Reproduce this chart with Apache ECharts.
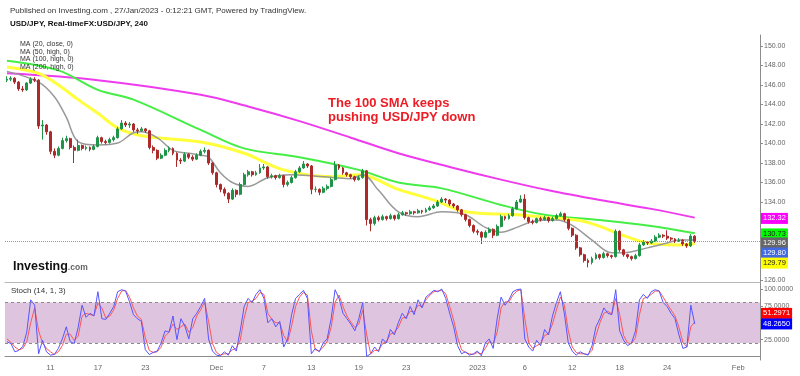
<!DOCTYPE html>
<html>
<head>
<meta charset="utf-8">
<title>USD/JPY 240</title>
<script src="https://cdn.jsdelivr.net/npm/echarts@6.0.0/dist/echarts.min.js"></script>
<style>
  html, body { margin: 0; padding: 0; background: #fff; }
  #chart { width: 800px; height: 376px; }
</style>
</head>
<body>
<div id="chart"></div>
<script>
// trading days on the time axis (weekends skipped), three 8h bars per day
const days = [
  'Nov 7', 'Nov 8', 'Nov 9', 'Nov 10', 'Nov 11', 'Nov 14', 'Nov 15', 'Nov 16', 'Nov 17', 'Nov 18',
  'Nov 21', 'Nov 22', 'Nov 23', 'Nov 24', 'Nov 25', 'Nov 28', 'Nov 29', 'Nov 30',
  'Dec 1', 'Dec 2', 'Dec 5', 'Dec 6', 'Dec 7', 'Dec 8', 'Dec 9', 'Dec 12', 'Dec 13', 'Dec 14',
  'Dec 15', 'Dec 16', 'Dec 19', 'Dec 20', 'Dec 21', 'Dec 22', 'Dec 23', 'Dec 26', 'Dec 27', 'Dec 28',
  'Dec 29', 'Dec 30', 'Jan 2', 'Jan 3', 'Jan 4', 'Jan 5', 'Jan 6', 'Jan 9', 'Jan 10', 'Jan 11',
  'Jan 12', 'Jan 13', 'Jan 16', 'Jan 17', 'Jan 18', 'Jan 19', 'Jan 20', 'Jan 23', 'Jan 24', 'Jan 25',
  'Jan 26', 'Jan 27', 'Jan 30', 'Jan 31', 'Feb 1', 'Feb 2'
]
const slots = ['00', '08', '16']

const tickDays = ['Nov 11', 'Nov 17', 'Nov 23', 'Dec 1', 'Dec 7', 'Dec 13', 'Dec 19', 'Dec 23',
  'Jan 2', 'Jan 6', 'Jan 12', 'Jan 18', 'Jan 24', 'Feb 1']
const tickText = ['11', '17', '23', 'Dec', '7', '13', '19', '23', '2023', '6', '12', '18', '24', 'Feb']

const priceTicks = [126, 134, 136, 138, 140, 142, 144, 146, 148, 150]
const stochTicks = [25, 75, 100]

// USD/JPY 8h candles
const opens = [
  146.5, 146.6, 146.7, 146.3, 145.6, 145.5, 146.2, 146.6, 146.5, 141.8,
  141.9, 141.2, 139.2, 138.8, 139.5, 140.3, 140.5, 139.6, 139.3, 139.8,
  139.5, 139.6, 139.4, 139.7, 140.6, 140.2, 140.1, 140.4, 140.6, 141.5,
  142.1, 141.9, 142.0, 141.4, 141.3, 141.5, 141.3, 139.6, 139.3, 138.5,
  138.8, 139.3, 139.5, 139.0, 138.3, 138.2, 138.9, 138.6, 138.4, 138.8,
  139.2, 139.3, 138.0, 137.0, 135.8, 135.3, 134.9, 134.3, 135.2, 134.8,
  135.8, 136.8, 137.1, 136.8, 137.0, 137.5, 137.6, 136.6, 136.7, 136.5,
  136.7, 135.8, 136.0, 136.5, 137.1, 137.5, 137.9, 137.7, 135.3, 135.3,
  135.0, 135.4, 135.6, 136.3, 137.8, 137.5, 137.0, 136.8, 136.6, 136.3,
  136.5, 137.2, 132.2, 131.8, 132.4, 132.2, 132.5, 132.3, 132.6, 132.3,
  132.7, 132.9, 132.8, 133.0, 132.9, 133.1, 133.0, 133.2, 133.4, 133.6,
  134.0, 134.3, 134.2, 133.8, 133.6, 133.2, 132.7, 132.2, 131.6, 131.0,
  130.9, 130.4, 130.9, 131.2, 130.6, 131.5, 132.5, 132.3, 132.6, 133.3,
  134.0, 134.3, 132.4, 132.0, 131.9, 132.3, 132.2, 132.4, 132.1, 132.3,
  132.6, 132.8, 132.2, 131.3, 130.6, 129.3, 128.6, 128.0, 127.8, 128.2,
  128.6, 128.3, 128.7, 128.5, 128.4, 131.0, 129.1, 128.6, 128.4, 128.2,
  128.5, 129.6, 129.9, 129.8, 130.0, 130.4, 130.6, 130.5, 130.3, 130.2,
  130.0, 130.1, 129.7, 129.5, 130.5
]
const closes = [
  146.6, 146.7, 146.3, 145.6, 145.5, 146.2, 146.6, 146.5, 141.8, 141.9,
  141.2, 139.2, 138.8, 139.5, 140.3, 140.5, 139.6, 139.3, 139.8, 139.5,
  139.6, 139.4, 139.7, 140.6, 140.2, 140.1, 140.4, 140.6, 141.5, 142.1,
  141.9, 142.0, 141.4, 141.3, 141.5, 141.3, 139.6, 139.3, 138.5, 138.8,
  139.3, 139.5, 139.0, 138.3, 138.2, 138.9, 138.6, 138.4, 138.8, 139.2,
  139.3, 138.0, 137.0, 135.8, 135.3, 134.9, 134.3, 135.2, 134.8, 135.8,
  136.8, 137.1, 136.8, 137.0, 137.5, 137.6, 136.6, 136.7, 136.5, 136.7,
  135.8, 136.0, 136.5, 137.1, 137.5, 137.9, 137.7, 135.3, 135.3, 135.0,
  135.4, 135.6, 136.3, 137.8, 137.5, 137.0, 136.8, 136.6, 136.3, 136.5,
  137.2, 132.2, 131.8, 132.4, 132.2, 132.5, 132.3, 132.6, 132.3, 132.7,
  132.9, 132.8, 133.0, 132.9, 133.1, 133.0, 133.2, 133.4, 133.6, 134.0,
  134.3, 134.2, 133.8, 133.6, 133.2, 132.7, 132.2, 131.6, 131.0, 130.9,
  130.4, 130.9, 131.2, 130.6, 131.5, 132.5, 132.3, 132.6, 133.3, 134.0,
  134.3, 132.4, 132.0, 131.9, 132.3, 132.2, 132.4, 132.1, 132.3, 132.6,
  132.8, 132.2, 131.3, 130.6, 129.3, 128.6, 128.0, 127.8, 128.2, 128.6,
  128.3, 128.7, 128.5, 128.4, 131.0, 129.1, 128.6, 128.4, 128.2, 128.5,
  129.6, 129.9, 129.8, 130.0, 130.4, 130.6, 130.5, 130.3, 130.2, 130.0,
  130.1, 129.7, 129.5, 130.5, 129.96
]
const lows = [
  146.3, 146.4, 146.1, 145.4, 145.3, 145.4, 146.1, 146.3, 141.5, 140.4,
  140.9, 138.9, 138.5, 138.7, 139.4, 140.1, 139.4, 138.0, 139.2, 139.3,
  139.3, 139.2, 139.3, 139.6, 140.0, 139.9, 140.0, 140.2, 140.5, 141.4,
  141.7, 141.6, 141.2, 141.0, 141.2, 141.1, 139.4, 139.0, 138.3, 138.4,
  138.7, 139.1, 138.8, 137.6, 137.9, 138.1, 138.4, 138.2, 138.3, 138.7,
  139.0, 137.8, 136.8, 135.5, 135.0, 134.6, 133.9, 134.2, 134.5, 134.7,
  135.7, 136.6, 136.6, 136.7, 136.9, 137.3, 136.4, 136.4, 136.3, 136.4,
  135.5, 135.6, 135.9, 136.4, 137.0, 137.4, 137.5, 134.8, 135.0, 134.7,
  134.9, 135.2, 135.5, 136.2, 137.3, 136.8, 136.6, 136.4, 136.1, 136.2,
  136.4, 131.6, 131.0, 131.6, 132.0, 132.1, 132.1, 132.2, 132.1, 132.2,
  132.6, 132.6, 132.7, 132.7, 132.8, 132.8, 132.9, 133.1, 133.3, 133.5,
  133.9, 133.9, 133.6, 133.4, 133.0, 132.5, 132.0, 131.4, 130.8, 130.6,
  129.7, 130.3, 130.8, 130.3, 130.5, 131.4, 132.1, 132.2, 132.5, 133.2,
  133.9, 132.2, 131.8, 131.7, 131.8, 132.0, 132.1, 131.9, 132.0, 132.2,
  132.5, 132.0, 131.1, 130.4, 129.1, 128.4, 127.8, 127.3, 127.6, 128.1,
  128.1, 128.2, 128.3, 128.2, 128.3, 128.9, 128.4, 128.2, 128.0, 128.1,
  128.4, 129.5, 129.6, 129.7, 129.9, 130.3, 130.3, 130.1, 130.0, 129.8,
  129.9, 129.5, 129.3, 129.4, 129.8
]
const highs = [
  146.9, 146.9, 146.8, 146.4, 145.9, 146.3, 146.8, 146.8, 146.6, 142.4,
  142.0, 141.3, 139.5, 139.7, 140.6, 140.8, 140.6, 139.8, 140.4, 139.9,
  139.8, 139.7, 139.9, 140.8, 140.7, 140.4, 140.6, 140.8, 141.7, 142.4,
  142.3, 142.2, 142.1, 141.6, 141.7, 141.6, 141.4, 139.8, 139.4, 139.0,
  139.5, 139.7, 139.6, 139.1, 138.5, 139.1, 139.0, 138.8, 139.0, 139.4,
  139.6, 139.4, 138.1, 137.1, 135.9, 135.5, 135.0, 135.4, 135.3, 136.0,
  137.0, 137.3, 137.2, 137.2, 137.9, 137.9, 137.7, 136.9, 136.8, 136.9,
  136.8, 136.2, 136.7, 137.3, 137.7, 138.2, 138.0, 137.8, 135.6, 135.4,
  135.6, 135.8, 136.5, 138.2, 137.9, 137.6, 137.1, 136.9, 136.7, 136.7,
  137.4, 137.3, 132.4, 132.6, 132.6, 132.7, 132.6, 132.8, 132.7, 132.9,
  133.1, 133.0, 133.2, 133.1, 133.3, 133.2, 133.4, 133.6, 133.8, 134.2,
  134.5, 134.4, 134.3, 133.9, 133.7, 133.3, 132.8, 132.3, 131.7, 131.2,
  131.0, 131.1, 131.4, 131.3, 131.7, 132.7, 132.6, 132.8, 133.5, 134.2,
  134.7, 134.8, 132.5, 132.2, 132.4, 132.5, 132.6, 132.5, 132.5, 132.8,
  133.0, 132.9, 132.3, 131.4, 130.7, 129.4, 128.7, 128.2, 128.4, 128.8,
  128.7, 128.9, 128.8, 128.6, 131.2, 131.1, 129.2, 128.7, 128.5, 128.7,
  129.8, 130.1, 130.0, 130.2, 130.6, 130.8, 130.7, 131.1, 130.4, 130.3,
  130.3, 130.2, 129.8, 130.7, 130.6
]

// moving averages: [bar index, value]
const ma20 = [[0, 147.4], [8, 146.3], [12, 144.8], [15, 142.7], [18, 140.2], [23, 139.85], [28, 140.05],
  [32, 141.1], [34, 141.2], [38, 140.6], [42, 139.3], [46, 139.0], [49, 138.8], [51, 138.6], [54, 137.0],
  [57, 136.0], [61, 135.6], [66, 136.5], [72, 136.8], [77, 136.7], [83, 136.5], [87, 136.4], [90, 136.8],
  [94, 135.2], [99, 133.0], [104, 132.5], [110, 133.0], [116, 132.7], [121, 131.4], [125, 130.9],
  [129, 131.4], [133, 132.0], [139, 132.15], [143, 131.6], [148, 130.1], [153, 128.8], [156, 128.8],
  [162, 129.3], [167, 129.8], [170, 130.1], [174, 130.1]]
const ma50 = [[0, 147.85], [8, 147.2], [13, 146.0], [18, 144.5], [23, 143.1], [28, 141.6], [34, 140.8],
  [49, 140.15], [60, 139.0], [70, 137.3], [82, 136.6], [89, 136.8], [99, 135.3], [108, 134.2],
  [116, 133.0], [129, 132.7], [137, 132.4], [145, 132.1], [150, 131.5], [155, 130.7], [162, 129.8],
  [170, 129.6], [174, 129.75]]
const ma100 = [[0, 148.5], [13, 147.5], [23, 145.5], [32, 144.5], [49, 141.4], [60, 139.5], [74, 138.6],
  [89, 137.3], [99, 136.0], [110, 135.4], [125, 133.7], [136, 132.7], [150, 132.15], [162, 131.6],
  [174, 130.8]]
const ma200 = [[0, 147.2], [23, 146.5], [49, 145.0], [61, 143.8], [74, 142.3], [87, 140.6], [99, 139.0],
  [112, 137.6], [125, 136.3], [137, 135.2], [150, 134.2], [163, 133.3], [174, 132.4]]

// Stochastic (14, 1, 3)
const stochK = [
  22, 19, 7, 9, 15, 36, 84, 76, 4, 24,
  7, 2, 3, 12, 26, 44, 22, 19, 43, 76,
  58, 64, 60, 96, 56, 55, 64, 74, 96, 99,
  97, 81, 62, 56, 52, 10, 3, 6, 8, 20,
  38, 36, 60, 25, 56, 45, 26, 56, 64, 74,
  86, 26, 8, 2, 1, 7, 2, 16, 8, 38,
  74, 86, 80, 92, 99, 86, 50, 56, 44, 52,
  14, 26, 62, 86, 92, 98, 86, 4, 12, 7,
  20, 26, 56, 99, 86, 64, 56, 48, 38, 56,
  80, 0, 4, 14, 7, 26, 20, 40, 32, 50,
  64, 56, 74, 62, 84, 72, 88, 93, 98, 96,
  100, 86, 64, 44, 16, 4, 7, 2, 4, 8,
  1, 20, 26, 12, 56, 88, 76, 84, 96, 99,
  100, 26, 14, 8, 24, 16, 40, 32, 60, 80,
  96, 64, 20, 8, 2, 7, 4, 2, 16, 44,
  56, 72, 64, 62, 99, 38, 24, 16, 20, 38,
  84, 92, 86, 96, 99, 97, 80, 74, 64, 56,
  32, 12, 14, 76, 48.265
]
const stochD = [
  26, 21, 14, 10, 12, 22, 50, 72, 38, 20,
  12, 7, 3, 7, 16, 33, 33, 24, 30, 60,
  64, 62, 61, 79, 72, 57, 60, 69, 86, 97,
  98, 88, 72, 60, 55, 28, 9, 6, 7, 14,
  30, 36, 48, 40, 44, 48, 36, 43, 60, 69,
  81, 52, 19, 6, 2, 4, 4, 10, 12, 24,
  57, 80, 82, 86, 95, 92, 64, 55, 50, 50,
  31, 22, 45, 74, 88, 95, 91, 38, 10, 8,
  14, 22, 43, 80, 91, 74, 60, 51, 43, 48,
  69, 32, 4, 9, 9, 19, 22, 33, 36, 43,
  57, 58, 67, 66, 76, 74, 84, 91, 96, 97,
  98, 93, 74, 54, 28, 10, 6, 4, 3, 6,
  4, 12, 22, 19, 36, 72, 81, 81, 91, 97,
  99, 56, 20, 12, 16, 19, 31, 34, 48, 69,
  88, 76, 38, 14, 6, 4, 4, 3, 9, 31,
  50, 64, 67, 63, 86, 62, 31, 20, 19, 28,
  62, 86, 88, 92, 97, 97, 88, 78, 69, 60,
  43, 21, 14, 44, 51.2971
]

const lastPrice = 129.96
const priceTagValues = [132.32, 130.73, 129.96, 129.80, 129.79]
const stochTagValues = [51.2971, 48.2650]

const font = '"Liberation Sans", Arial, sans-serif'

const categories = []
days.forEach(d => slots.forEach(s => categories.push(d + ' ' + s)))
categories.shift() // chart opens on the second bar of Nov 7

const tickAt = {}
tickDays.forEach((d, j) => { tickAt[d + ' 00'] = tickText[j] })

const candles = opens.map((o, i) => [o, closes[i], lows[i], highs[i]])

const axisGray = '#8c8c8c'

const chart = echarts.init(document.getElementById('chart'), null, { renderer: 'canvas' })

const option = {
  animation: false,
  backgroundColor: '#fff',
  textStyle: { fontFamily: font },
  title: [
    {
      text: 'Published on Investing.com , 27/Jan/2023 - 0:12:21 GMT, Powered by TradingView.',
      left: 10, top: 7, padding: 0,
      textStyle: { fontSize: 8, fontWeight: 'normal', color: '#333', fontFamily: font }
    },
    {
      text: 'USD/JPY, Real-timeFX:USD/JPY, 240',
      left: 10, top: 20, padding: 0,
      textStyle: { fontSize: 8, fontWeight: 'bold', color: '#111', fontFamily: font }
    },
    {
      text: 'MA (20, close, 0)\nMA (50, high, 0)\nMA (100, high, 0)\nMA (200, high, 0)',
      left: 20, top: 40.5, padding: 0,
      textStyle: { fontSize: 7, lineHeight: 7.5, fontWeight: 'normal', color: '#333', fontFamily: font }
    },
    {
      text: 'The 100 SMA keeps\npushing USD/JPY down',
      left: 328, top: 97, padding: 0,
      textStyle: { fontSize: 13, lineHeight: 13.5, fontWeight: 'bold', color: '#ee1c24', fontFamily: font }
    },
    {
      text: '{a|Investing}{b|.com}',
      left: 13, top: 260, padding: 0,
      textStyle: {
        fontFamily: font,
        rich: {
          a: { fontSize: 12.5, fontWeight: 'bold', color: '#111', fontFamily: font },
          b: { fontSize: 8.5, color: '#666', fontFamily: font, padding: [3, 0, 0, 0] }
        }
      }
    },
    {
      text: 'Stoch (14, 1, 3)',
      left: 11, top: 287, padding: 0,
      textStyle: { fontSize: 8, fontWeight: 'normal', color: '#333', fontFamily: font }
    }
  ],
  grid: [
    { left: 5, right: 40, top: 35, height: 247 },
    { left: 5, right: 40, top: 282, height: 78 }
  ],
  xAxis: [
    {
      type: 'category', gridIndex: 0, data: categories, boundaryGap: true,
      axisLine: { lineStyle: { color: '#b8b8b8' } },
      axisTick: { show: false }, axisLabel: { show: false }, splitLine: { show: false }
    },
    {
      type: 'category', gridIndex: 1, data: categories, boundaryGap: true,
      axisLine: { lineStyle: { color: axisGray } },
      axisTick: {
        interval: (idx, val) => val in tickAt,
        alignWithLabel: true, length: 3, lineStyle: { color: axisGray }
      },
      axisLabel: {
        interval: (idx, val) => val in tickAt,
        formatter: val => tickAt[val] || '',
        fontSize: 7.5, color: '#666', margin: 4, fontFamily: font
      },
      splitLine: { show: false }
    }
  ],
  yAxis: [
    {
      type: 'value', gridIndex: 0, position: 'right', min: 125.8, max: 151.13,
      splitLine: { show: false },
      axisLine: { show: true, lineStyle: { color: axisGray } },
      axisTick: { show: true, length: 3, customValues: priceTicks, lineStyle: { color: axisGray } },
      axisLabel: {
        customValues: priceTicks, formatter: v => v.toFixed(2),
        fontSize: 7, color: '#666', margin: 4, fontFamily: font
      }
    },
    {
      type: 'value', gridIndex: 1, position: 'right', min: -5.2, max: 110.4,
      splitLine: { show: false },
      axisLine: { show: true, lineStyle: { color: axisGray } },
      axisTick: { show: true, length: 3, customValues: stochTicks, lineStyle: { color: axisGray } },
      axisLabel: {
        customValues: stochTicks, formatter: v => v.toFixed(4),
        fontSize: 7, color: '#666', margin: 4, fontFamily: font
      }
    }
  ],
  series: [
    {
      name: 'MA200', type: 'line', xAxisIndex: 0, yAxisIndex: 0, data: ma200,
      smooth: 0.35, showSymbol: false, z: 2,
      lineStyle: { color: '#ee3bee', width: 2 }
    },
    {
      name: 'MA100', type: 'line', xAxisIndex: 0, yAxisIndex: 0, data: ma100,
      smooth: 0.35, showSymbol: false, z: 2,
      lineStyle: { color: '#44ee44', width: 2 }
    },
    {
      name: 'MA50', type: 'line', xAxisIndex: 0, yAxisIndex: 0, data: ma50,
      smooth: 0.35, showSymbol: false, z: 2,
      lineStyle: { color: '#ffff3c', width: 3 }
    },
    {
      name: 'MA20', type: 'line', xAxisIndex: 0, yAxisIndex: 0, data: ma20,
      smooth: 0.35, showSymbol: false, z: 2,
      lineStyle: { color: '#999999', width: 1.5 }
    },
    {
      name: 'USD/JPY', type: 'candlestick', xAxisIndex: 0, yAxisIndex: 0, data: candles,
      barWidth: 2.4, z: 3,
      itemStyle: {
        color: '#1f9448', color0: '#ad2a2a',
        borderColor: '#1f9448', borderColor0: '#ad2a2a', borderWidth: 1
      },
      markLine: {
        silent: true, symbol: 'none', label: { show: false },
        lineStyle: { color: '#7d95dd', type: 'dotted', width: 1 },
        data: [{ yAxis: lastPrice }]
      }
    },
    {
      name: 'band', type: 'line', xAxisIndex: 1, yAxisIndex: 1, data: [], z: 1,
      markArea: {
        silent: true,
        itemStyle: { color: '#dfc4df' },
        data: [[{ yAxis: 20 }, { yAxis: 80 }]]
      },
      markLine: {
        silent: true, symbol: 'none', label: { show: false },
        lineStyle: { color: '#8a8a8a', type: [3, 3], width: 1 },
        data: [{ yAxis: 20 }, { yAxis: 80 }]
      }
    },
    {
      name: '%D', type: 'line', xAxisIndex: 1, yAxisIndex: 1, data: stochD,
      showSymbol: false, z: 3,
      lineStyle: { color: '#ff5555', width: 1 }
    },
    {
      name: '%K', type: 'line', xAxisIndex: 1, yAxisIndex: 1, data: stochK,
      showSymbol: false, z: 3,
      lineStyle: { color: '#5555ff', width: 1 }
    }
  ]
}

chart.setOption(option)

// coloured value tags on the right axis, stacked the way TradingView does
const priceTagLook = [
  { bg: '#ff00ff', fg: '#ffffff', shift: 0 },
  { bg: '#00ff00', fg: '#222222', shift: 0 },
  { bg: '#666666', fg: '#ffffff', shift: 1.5 },
  { bg: '#4169e1', fg: '#ffffff', shift: 10 },
  { bg: '#ffff00', fg: '#222222', shift: 20 }
]
const stochTagLook = [
  { bg: '#ff0000', fg: '#ffffff', shift: -8.5 },
  { bg: '#0000ff', fg: '#ffffff', shift: 0 }
]

function tag (text, y, look) {
  return {
    type: 'text', x: 761, y: y + look.shift, z: 50,
    style: {
      text: text, fill: look.fg, backgroundColor: look.bg,
      padding: [2, 2, 1, 2], font: '7.5px ' + font,
      align: 'left', verticalAlign: 'middle'
    }
  }
}

const graphics = []
priceTagValues.forEach((v, j) => {
  graphics.push(tag(v.toFixed(2), chart.convertToPixel({ yAxisIndex: 0 }, v), priceTagLook[j]))
})
stochTagValues.forEach((v, j) => {
  graphics.push(tag(v.toFixed(4), chart.convertToPixel({ yAxisIndex: 1 }, v), stochTagLook[j]))
})
chart.setOption({ graphic: graphics })
</script>
</body>
</html>
